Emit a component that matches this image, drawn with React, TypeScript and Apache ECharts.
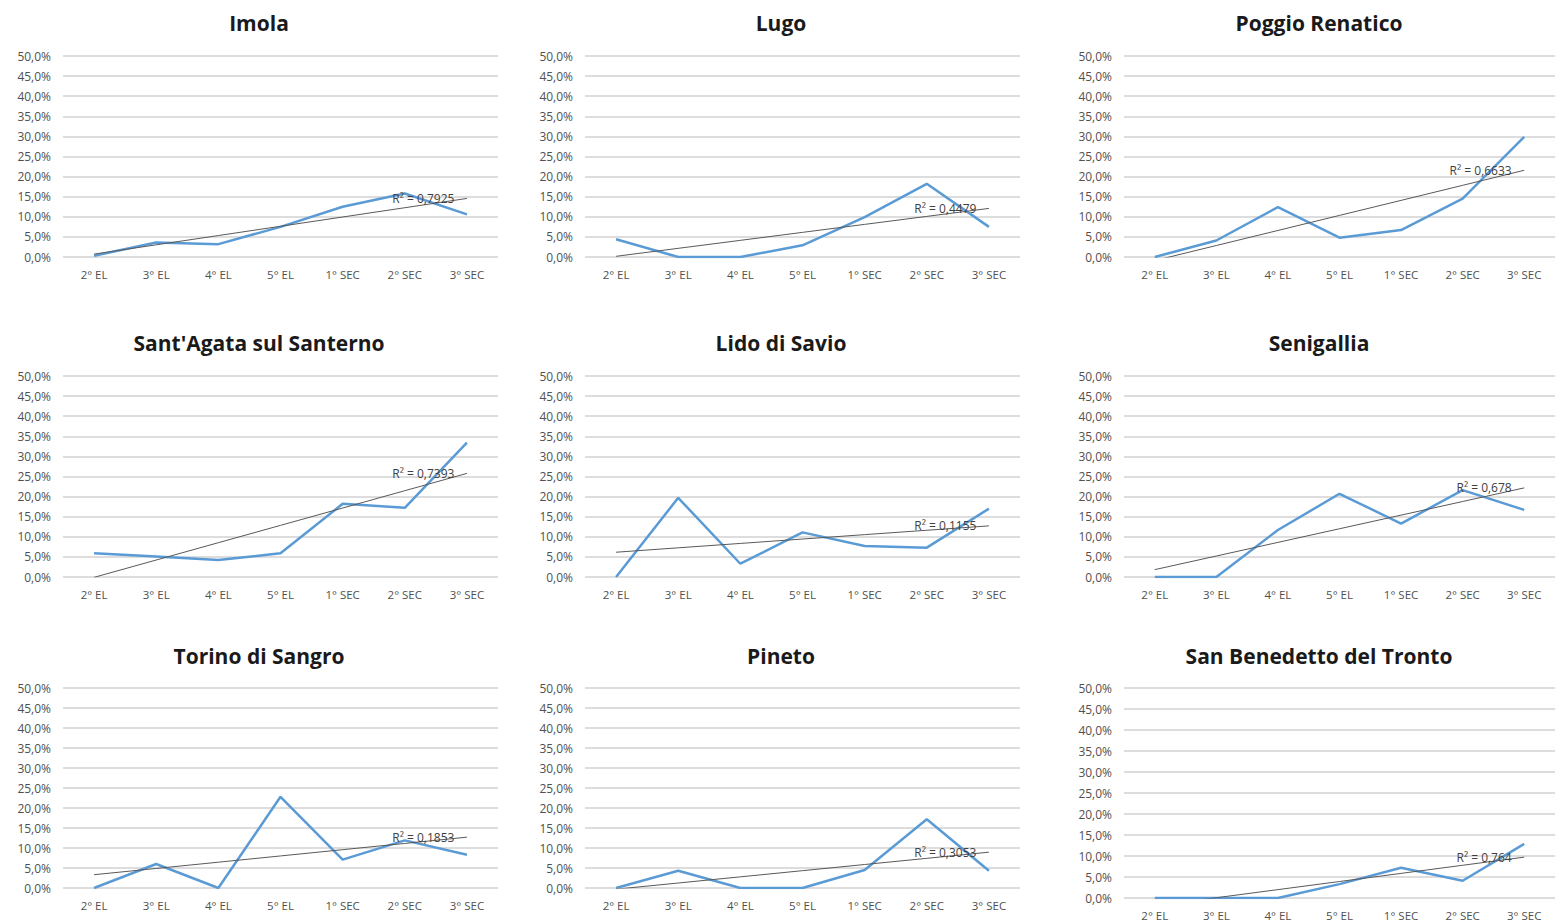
import React, { useEffect, useRef } from "react";
import * as echarts from "echarts";

const categories = ["2° EL", "3° EL", "4° EL", "5° EL", "1° SEC", "2° SEC", "3° SEC"];

const titles = [
  "Imola",
  "Lugo",
  "Poggio Renatico",
  "Sant'Agata sul Santerno",
  "Lido di Savio",
  "Senigallia",
  "Torino di Sangro",
  "Pineto",
  "San Benedetto del Tronto",
];

const imola = [0.3, 3.6, 3.2, 7.5, 12.5, 15.8, 10.6];
const lugo = [4.4, 0, 0, 2.9, 9.9, 18.2, 7.5];
const poggioRenatico = [0, 4.1, 12.4, 4.8, 6.7, 14.5, 29.9];
const santAgata = [5.9, 5.1, 4.2, 5.9, 18.2, 17.2, 33.4];
const lidoDiSavio = [0, 19.7, 3.3, 11.1, 7.7, 7.3, 17.0];
const senigallia = [0, 0, 11.7, 20.7, 13.3, 21.6, 16.7];
const torinoDiSangro = [0, 6.0, 0, 22.8, 7.1, 11.9, 8.3];
const pineto = [0, 4.3, 0, 0, 4.5, 17.2, 4.3];
const sanBenedetto = [0, 0, 0, 3.3, 7.2, 4.1, 12.9];

const seriesValues = [imola, lugo, poggioRenatico, santAgata, lidoDiSavio, senigallia, torinoDiSangro, pineto, sanBenedetto];

const r2Values = ["0,7925", "0,4479", "0,6633", "0,7393", "0,1155", "0,678", "0,1853", "0,3053", "0,764"];

const yTicks = { min: 0, max: 50, interval: 5 };

// layout (pixels)
const colLeft = [63, 585, 1124];
const colWidth = [435, 435, 435];
const colTitleX = [259, 781, 1319];
const rowTop = [56, 376, 688];
const rowTitleY = [23, 343, 656];
const plotHeights = [201, 201, 201, 201, 201, 201, 200, 200, 210];

const FONT = "'Open Sans', 'Liberation Sans', sans-serif";

function linearTrend(values: number[]): number[] {
  const n = values.length;
  const mx = (n - 1) / 2;
  const my = values.reduce((a, b) => a + b, 0) / n;
  let sxy = 0;
  let sxx = 0;
  values.forEach((v, i) => {
    sxy += (i - mx) * (v - my);
    sxx += (i - mx) * (i - mx);
  });
  const slope = sxy / sxx;
  const icpt = my - slope * mx;
  return values.map((_, i) => icpt + slope * i);
}

export default function App() {
  const ref = useRef<HTMLDivElement>(null);

  useEffect(() => {
    if (!ref.current) return;
    const chart = echarts.init(ref.current, null, { renderer: "svg" });

    const grids: any[] = [];
    const xAxes: any[] = [];
    const yAxes: any[] = [];
    const series: any[] = [];
    const graphics: any[] = [];

    seriesValues.forEach((vals, k) => {
      const r = Math.floor(k / 3);
      const c = k % 3;
      grids.push({
        left: colLeft[c],
        top: rowTop[r],
        width: colWidth[c],
        height: plotHeights[k],
        containLabel: false,
      });
      xAxes.push({
        type: "category",
        gridIndex: k,
        data: categories,
        boundaryGap: true,
        axisLine: { show: false },
        axisTick: { show: false },
        axisLabel: {
          interval: 0,
          margin: 11,
          fontSize: 11.5,
          color: "#505050",
          fontFamily: FONT,
        },
      });
      yAxes.push({
        type: "value",
        gridIndex: k,
        min: yTicks.min,
        max: yTicks.max,
        interval: yTicks.interval,
        axisLine: { show: false },
        axisTick: { show: false },
        splitLine: { show: true, lineStyle: { color: "#d2d2d2", width: 1.5 } },
        axisLabel: {
          margin: 12,
          fontSize: 12,
          color: "#505050",
          fontFamily: FONT,
          formatter: (v: number) => v.toFixed(1).replace(".", ",") + "%",
        },
      });
      series.push({
        type: "line",
        xAxisIndex: k,
        yAxisIndex: k,
        data: vals,
        symbol: "none",
        clip: true,
        lineStyle: { color: "#5b9bd5", width: 2.5 },
        z: 3,
      });
      const trend = linearTrend(vals);
      series.push({
        type: "line",
        xAxisIndex: k,
        yAxisIndex: k,
        clip: true,
        showSymbol: true,
        symbol: "circle",
        symbolSize: 1,
        itemStyle: { color: "rgba(0,0,0,0)" },
        lineStyle: { color: "#595959", width: 1 },
        z: 4,
        data: trend.map((v, i) =>
          i === trend.length - 1
            ? {
                value: v,
                label: {
                  show: true,
                  position: "left",
                  distance: 12,
                  formatter: "R² = " + r2Values[k],
                  fontSize: 12,
                  color: "#404040",
                  fontFamily: FONT,
                },
              }
            : { value: v, label: { show: false } }
        ),
      });
      graphics.push({
        type: "text",
        x: colTitleX[c],
        y: rowTitleY[r],
        style: {
          text: titles[k],
          align: "center",
          verticalAlign: "middle",
          fontSize: 21,
          fontWeight: "bold",
          fontFamily: FONT,
          fill: "#1a1a1a",
        },
      });
    });

    chart.setOption({
      animation: false,
      backgroundColor: "#ffffff",
      grid: grids,
      xAxis: xAxes,
      yAxis: yAxes,
      series,
      graphic: graphics,
    });

    return () => chart.dispose();
  }, []);

  return (
    <div
      ref={ref}
      style={{ position: "absolute", left: 0, top: 0, width: 1555, height: 923 }}
    />
  );
}
